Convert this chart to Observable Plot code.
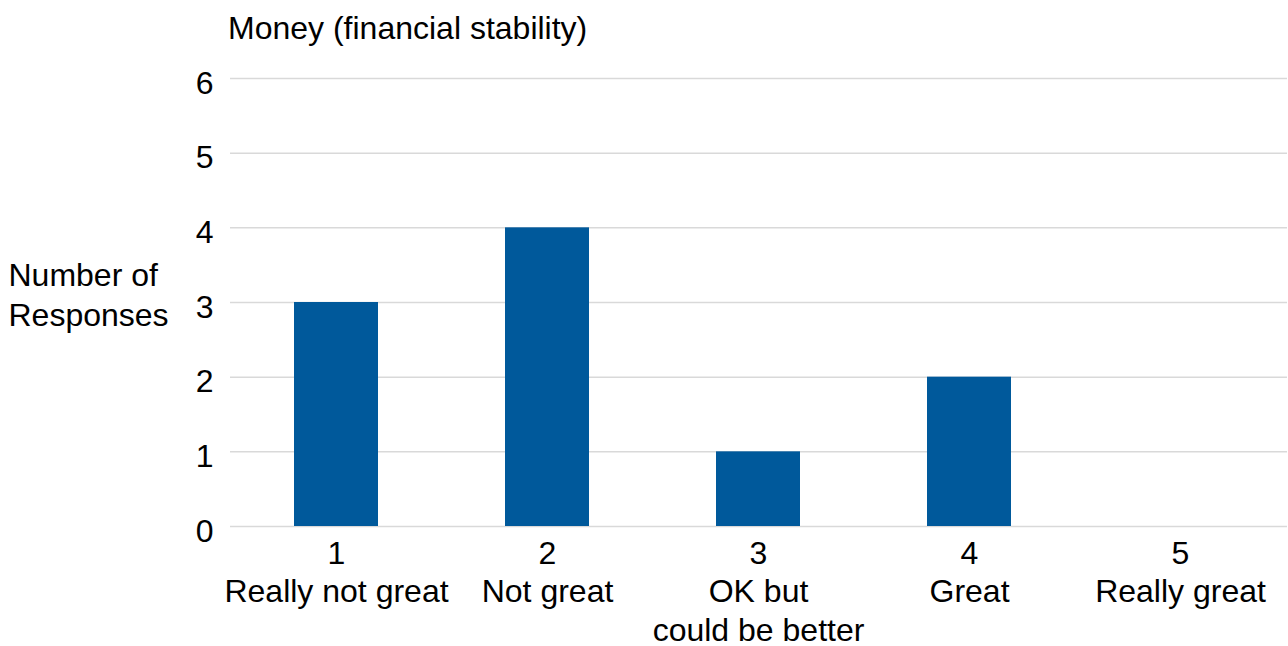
<!DOCTYPE html>
<html>
<head>
<meta charset="utf-8">
<script src="https://cdn.jsdelivr.net/npm/d3@7"></script>
<script src="https://cdn.jsdelivr.net/npm/@observablehq/plot@0.6"></script>
<style>
  html, body { margin: 0; padding: 0; background: #fff; }
  #wrap { position: relative; width: 1288px; height: 646px; font-family: "Liberation Sans", Arial, sans-serif; }
  #title { position: absolute; left: 228px; top: 12px; font-size: 32px; line-height: 32px; color: #000; white-space: nowrap; }
  #chart { position: absolute; left: 0; top: 50px; }
</style>
</head>
<body>
<div id="wrap">
  <div id="title">Money (financial stability)</div>
  <div id="chart"></div>
</div>
<script>
// Rating scale (1–5) and the wording shown under each number
const ratings = [1, 2, 3, 4, 5];
const ratingLabels = ["Really not great", "Not great", "OK but\ncould be better", "Great", "Really great"];
// Number of responses for each rating
const responses = [3, 4, 1, 2, 0];
const yTicks = [0, 1, 2, 3, 4, 5, 6];

const rows = ratings.map((r, i) => ({rating: r, count: responses[i]}));

const chart = Plot.plot({
  width: 1288,
  height: 596,
  marginTop: 28,
  marginBottom: 120,
  marginLeft: 230,
  marginRight: 1,
  style: {fontFamily: "'Liberation Sans', Arial, sans-serif", fontSize: "32px", color: "#000", background: "#fff"},
  x: {domain: ratings, paddingInner: 0.6, paddingOuter: 0.3, label: null},
  y: {domain: [0, 6], label: null},
  marks: [
    Plot.gridY(yTicks, {stroke: "#d9d9d9", strokeOpacity: 1, strokeWidth: 1.5}),
    Plot.barY(rows, {x: "rating", y: "count", fill: "#00599b"}),
    Plot.axisY(yTicks, {tickSize: 0, tickPadding: 17, dy: 5, fontSize: 32, label: null, tickFormat: d => String(d)}),
    Plot.axisX({
      tickSize: 0,
      tickPadding: 10,
      fontSize: 32,
      lineHeight: 1.2,
      label: null,
      tickFormat: d => `${d}\n${ratingLabels[ratings.indexOf(d)]}`
    }),
    Plot.text(["Number of\nResponses"], {
      text: d => d,
      frameAnchor: "left",
      textAnchor: "start",
      dx: -222,
      dy: -9,
      lineHeight: 1.25,
      fontSize: 32,
      fill: "#000"
    })
  ]
});
document.getElementById("chart").appendChild(chart);
</script>
</body>
</html>
